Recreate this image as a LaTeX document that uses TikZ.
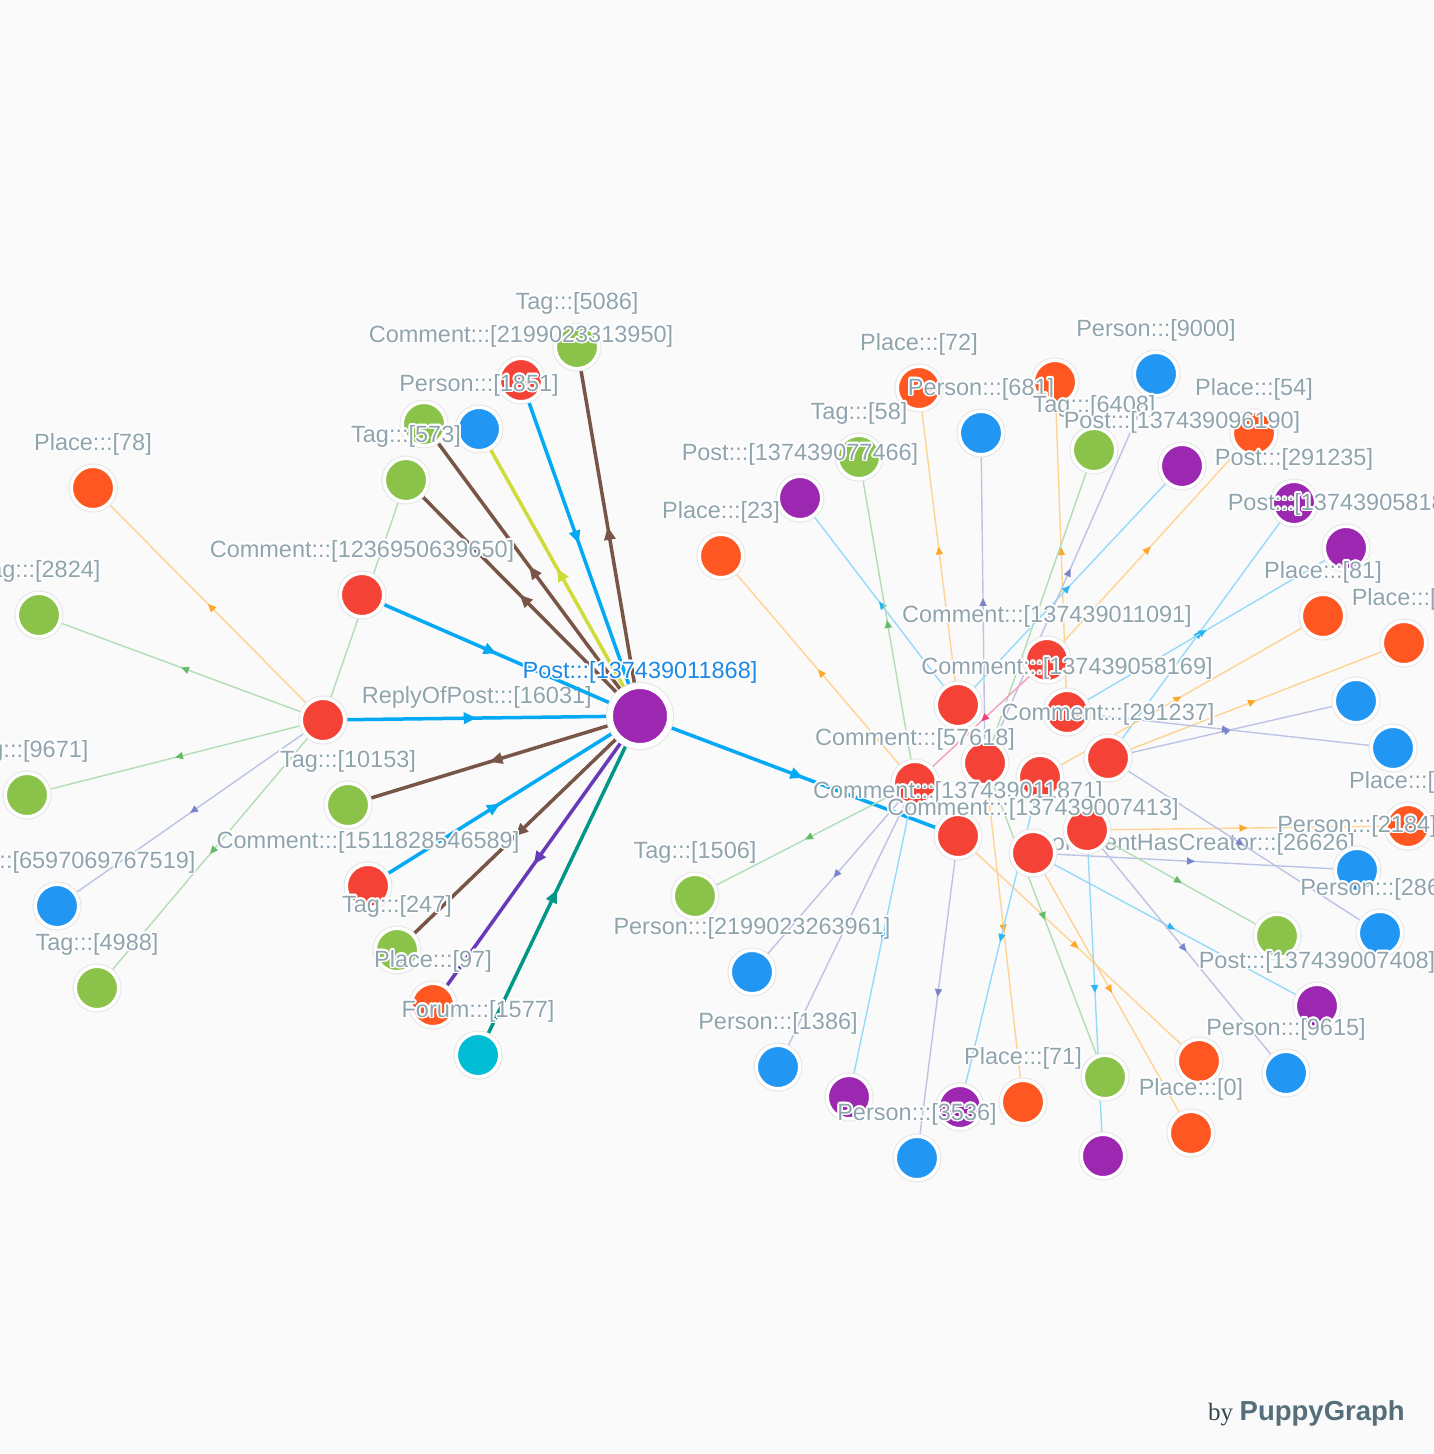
\documentclass[tikz,border=0pt]{standalone}
\usepackage{fontspec}
\setmainfont{Liberation Sans}
\newfontfamily\byfont{Liberation Serif}
\usepackage{xcolor}
\usepackage{contour}
\contourlength{1.6pt}
\contournumber{16}
\usepackage{tikz}
\usetikzlibrary{positioning,arrows.meta,decorations.markings}
\newcommand{\lblsize}{\fontsize{23.5}{28}\selectfont}
\newcommand{\halo}[1]{\contour{white}{#1}}
\definecolor{bg}{HTML}{FAFAFA}
\definecolor{lblgray}{HTML}{90A4AE}
\definecolor{postblue}{HTML}{1E88E5}
\definecolor{byGray}{HTML}{37474F}
\definecolor{logoGray}{HTML}{546E7A}
\definecolor{cComment}{HTML}{F44336}
\definecolor{cPlace}{HTML}{FF5722}
\definecolor{cTag}{HTML}{8BC34A}
\definecolor{cPerson}{HTML}{2196F3}
\definecolor{cPost}{HTML}{9C27B0}
\definecolor{cForum}{HTML}{00BCD4}
\definecolor{eBrown}{HTML}{795548}
\definecolor{eBlue}{HTML}{03A9F4}
\definecolor{eLime}{HTML}{CDDC39}
\definecolor{ePurple}{HTML}{673AB7}
\definecolor{eTeal}{HTML}{009688}
\definecolor{eOrange}{HTML}{FFA726}
\definecolor{eGreen}{HTML}{66BB6A}
\definecolor{eSky}{HTML}{29B6F6}
\definecolor{eLav}{HTML}{7986CB}
\definecolor{ePink}{HTML}{EC407A}
\pgfdeclarelayer{bglayer}
\pgfdeclarelayer{edgelayer}
\pgfsetlayers{bglayer,edgelayer,main}

\begin{document}
\begin{tikzpicture}[
  x=1pt, y=-1pt,
  every node/.style={font=\lblsize},
  ent/.style={circle,fill=#1,draw=white,line width=3.5pt,minimum size=43.5pt,inner sep=0pt,
    preaction={draw=black!10,line width=5.5pt}},
  lbl/.style={text=lblgray,inner sep=0pt,text depth=0pt},
  rel/.style={draw=#1!50!white,line width=1.4pt,postaction={decorate},
    decoration={markings,mark=at position 0.5 with {\arrow[color=#1]{Triangle[length=8pt,width=7pt]}}}},
  link/.style={draw=#1,line width=3.5pt,postaction={decorate},
    decoration={markings,mark=at position 0.5 with {\arrow[color=#1]{Triangle[length=13pt,width=11pt]}}}}
]
  \useasboundingbox (0,0) rectangle (1434,1454);
  \begin{pgfonlayer}{bglayer}
    \fill[bg] (0,0) rectangle (1434,1454);
  \end{pgfonlayer}

  % left cluster
  \node[ent=cPost,minimum size=60pt,line width=6pt,
    preaction={draw=black!10,line width=8pt}] (post) at (640,716) {};
  \node[ent=cComment] (c0) at (323,720) {};
  \node[ent=cPlace] (place78) at (93,488) {};
  \node[ent=cTag] (tag2824) at (39,615) {};
  \node[ent=cTag] (tag9671) at (27,795) {};
  \node[ent=cPerson] (person6597) at (57,906) {};
  \node[ent=cTag] (tag4988) at (97,988) {};
  \node[ent=cComment] (c1236) at (362,595) {};
  \node[ent=cTag] (tag573) at (406,480) {};
  \node[ent=cTag] (tagA) at (424,424) {};
  \node[ent=cPerson] (person1851) at (479,429) {};
  \node[ent=cComment] (c2199) at (521,380) {};
  \node[ent=cTag] (tag5086) at (577,347) {};
  \node[ent=cTag] (tag10153) at (348,805) {};
  \node[ent=cComment] (c1511) at (368,886) {};
  \node[ent=cTag] (tag247) at (397,950) {};
  \node[ent=cPlace] (place97) at (433,1005) {};
  \node[ent=cForum] (forum1577) at (478,1055) {};

  % right cluster, comments
  \node[ent=cComment] (cA) at (958,705) {};
  \node[ent=cComment] (c11091) at (1047,660) {};
  \node[ent=cComment] (c58169) at (1067,712) {};
  \node[ent=cComment] (c291237) at (1108,758) {};
  \node[ent=cComment] (cB) at (985,763) {};
  \node[ent=cComment] (c57618) at (915,783) {};
  \node[ent=cComment] (cC) at (1040,777) {};
  \node[ent=cComment] (cD) at (1087,830) {};
  \node[ent=cComment] (c11871) at (958,836) {};
  \node[ent=cComment] (c07413) at (1033,853) {};

  % right cluster, outer ring
  \node[ent=cPlace] (place23) at (721,556) {};
  \node[ent=cPost] (post77466) at (800,498) {};
  \node[ent=cTag] (tag58) at (859,457) {};
  \node[ent=cPlace] (place72) at (919,388) {};
  \node[ent=cPerson] (person681) at (981,433) {};
  \node[ent=cPlace] (placeA) at (1055,382) {};
  \node[ent=cTag] (tag6408) at (1094,450) {};
  \node[ent=cPerson] (person9000) at (1156,374) {};
  \node[ent=cPost] (post96190) at (1182,466) {};
  \node[ent=cPlace] (place54) at (1254,433) {};
  \node[ent=cPost] (post291235) at (1294,503) {};
  \node[ent=cPost] (post58187) at (1346,548) {};
  \node[ent=cPlace] (place81) at (1323,616) {};
  \node[ent=cPlace] (place5) at (1404,643) {};
  \node[ent=cPerson] (personA) at (1356,701) {};
  \node[ent=cPerson] (personB) at (1393,748) {};
  \node[ent=cPlace] (place56) at (1408,826) {};
  \node[ent=cPerson] (person2184) at (1357,870) {};
  \node[ent=cPerson] (person2865) at (1380,933) {};
  \node[ent=cTag] (tagB) at (1277,936) {};
  \node[ent=cPost] (post07408) at (1317,1006) {};
  \node[ent=cPerson] (person9615) at (1286,1073) {};
  \node[ent=cPlace] (placeB) at (1199,1061) {};
  \node[ent=cPlace] (place0) at (1191,1133) {};
  \node[ent=cTag] (tagC) at (1105,1077) {};
  \node[ent=cPost] (postA) at (1103,1156) {};
  \node[ent=cPlace] (place71) at (1023,1102) {};
  \node[ent=cPost] (postB) at (960,1107) {};
  \node[ent=cPerson] (person3536) at (917,1158) {};
  \node[ent=cPost] (postC) at (849,1097) {};
  \node[ent=cPerson] (person1386) at (778,1067) {};
  \node[ent=cPerson] (person2199) at (752,972) {};
  \node[ent=cTag] (tag1506) at (695,896) {};

  % labels, on top of every circle
  \node[lbl,text=postblue,above=4.5pt of post] (lpost) {\halo{Post:::[137439011868]}};
  \node[lbl,above=14pt of place78] (lplace78) {\halo{Place:::[78]}};
  \node[lbl,above=14pt of tag2824] (ltag2824) {\halo{Tag:::[2824]}};
  \node[lbl,above=14pt of tag9671] (ltag9671) {\halo{Tag:::[9671]}};
  \node[lbl,above=14pt of person6597] (lperson6597) {\halo{Person:::[6597069767519]}};
  \node[lbl,above=14pt of tag4988] (ltag4988) {\halo{Tag:::[4988]}};
  \node[lbl,above=14pt of c1236] (lc1236) {\halo{Comment:::[1236950639650]}};
  \node[lbl,above=14pt of tag573] (ltag573) {\halo{Tag:::[573]}};
  \node[lbl,above=14pt of person1851] (lperson1851) {\halo{Person:::[1851]}};
  \node[lbl,above=14pt of c2199] (lc2199) {\halo{Comment:::[2199023313950]}};
  \node[lbl,above=14pt of tag5086] (ltag5086) {\halo{Tag:::[5086]}};
  \node[lbl,above=14pt of tag10153] (ltag10153) {\halo{Tag:::[10153]}};
  \node[lbl,above=14pt of c1511] (lc1511) {\halo{Comment:::[1511828546589]}};
  \node[lbl,above=14pt of tag247] (ltag247) {\halo{Tag:::[247]}};
  \node[lbl,above=14pt of place97] (lplace97) {\halo{Place:::[97]}};
  \node[lbl,above=14pt of forum1577] (lforum1577) {\halo{Forum:::[1577]}};
  \node[lbl,above=14pt of place23] (lplace23) {\halo{Place:::[23]}};
  \node[lbl,above=14pt of post77466] (lpost77466) {\halo{Post:::[137439077466]}};
  \node[lbl,above=14pt of tag58] (ltag58) {\halo{Tag:::[58]}};
  \node[lbl,above=14pt of place72] (lplace72) {\halo{Place:::[72]}};
  \node[lbl,above=14pt of person681] (lperson681) {\halo{Person:::[681]}};
  \node[lbl,above=14pt of person9000] (lperson9000) {\halo{Person:::[9000]}};
  \node[lbl,above=14pt of place54] (lplace54) {\halo{Place:::[54]}};
  \node[lbl,above=14pt of tag6408] (ltag6408) {\halo{Tag:::[6408]}};
  \node[lbl,above=14pt of post96190] (lpost96190) {\halo{Post:::[137439096190]}};
  \node[lbl,above=14pt of post291235] (lpost291235) {\halo{Post:::[291235]}};
  \node[lbl,above=14pt of post58187] (lpost58187) {\halo{Post:::[137439058187]}};
  \node[lbl,above=14pt of place81] (lplace81) {\halo{Place:::[81]}};
  \node[lbl,above=14pt of place5] (lplace5) {\halo{Place:::[5]}};
  \node[lbl,above=14pt of c11091] (lc11091) {\halo{Comment:::[137439011091]}};
  \node[lbl,above=14pt of c58169] (lc58169) {\halo{Comment:::[137439058169]}};
  \node[lbl,above=14pt of c291237] (lc291237) {\halo{Comment:::[291237]}};
  \node[lbl,above=14pt of c57618] (lc57618) {\halo{Comment:::[57618]}};
  \node[lbl,above=14pt of place56] (lplace56) {\halo{Place:::[56]}};
  \node[lbl,above=14pt of c11871] (lc11871) {\halo{Comment:::[137439011871]}};
  \node[lbl,above=14pt of c07413] (lc07413) {\halo{Comment:::[137439007413]}};
  \node[lbl,above=14pt of person2184] (lperson2184) {\halo{Person:::[2184]}};
  \node[lbl,above=14pt of person2865] (lperson2865) {\halo{Person:::[2865]}};
  \node[lbl,above=14pt of tag1506] (ltag1506) {\halo{Tag:::[1506]}};
  \node[lbl,above=14pt of person2199] (lperson2199) {\halo{Person:::[2199023263961]}};
  \node[lbl,above=14pt of post07408] (lpost07408) {\halo{Post:::[137439007408]}};
  \node[lbl,above=14pt of person1386] (lperson1386) {\halo{Person:::[1386]}};
  \node[lbl,above=14pt of person9615] (lperson9615) {\halo{Person:::[9615]}};
  \node[lbl,above=14pt of place71] (lplace71) {\halo{Place:::[71]}};
  \node[lbl,above=14pt of place0] (lplace0) {\halo{Place:::[0]}};
  \node[lbl,above=14pt of person3536] (lperson3536) {\halo{Person:::[3536]}};

  \node[anchor=base west,inner sep=0pt] (logo) at (1208,1420)
    {{\byfont\fontsize{25}{30}\selectfont\color{byGray}by} {\fontsize{27.5}{33}\selectfont\bfseries\color{logoGray}PuppyGraph}};

  \begin{pgfonlayer}{edgelayer}
    % edges round the post
    \draw[link=eBlue] (c0) -- node[lbl,above=12.5pt] {\halo{ReplyOfPost:::[16031]}} (post);
    \draw[rel=eOrange] (c0) -- (place78);
    \draw[rel=eGreen] (c0) -- (tag2824);
    \draw[rel=eGreen] (c0) -- (tag9671);
    \draw[rel=eLav] (c0) -- (person6597);
    \draw[rel=eGreen] (c0) -- (tag4988);
    \draw[rel=eGreen] (c0) -- (tag573);
    \draw[link=eBlue] (c1236) -- (post);
    \draw[link=eBrown] (post) -- (tag573);
    \draw[link=eBrown] (post) -- (tagA);
    \draw[link=eLime] (post) -- (person1851);
    \draw[link=eBlue] (c2199) -- (post);
    \draw[link=eBrown] (post) -- (tag5086);
    \draw[link=eBrown] (post) -- (tag10153);
    \draw[link=eBlue] (c1511) -- (post);
    \draw[link=eBrown] (post) -- (tag247);
    \draw[link=ePurple] (post) -- (place97);
    \draw[link=eTeal] (forum1577) -- (post);
    \draw[link=eBlue] (post) -- (c11871);

    % edges of the comment cluster
    \draw[rel=eOrange] (c57618) -- (place23);
    \draw[rel=eSky] (cA) -- (post77466);
    \draw[rel=eGreen] (c57618) -- (tag58);
    \draw[rel=eOrange] (cA) -- (place72);
    \draw[rel=eLav] (cB) -- (person681);
    \draw[rel=eOrange] (c58169) -- (placeA);
    \draw[rel=eGreen] (cB) -- (tag6408);
    \draw[rel=eSky] (cA) -- (post96190);
    \draw[rel=eLav] (cB) -- (person9000);
    \draw[rel=eOrange] (c11091) -- (place54);
    \draw[rel=eSky] (c291237) -- (post291235);
    \draw[rel=eSky] (c58169) -- (post58187);
    \draw[rel=eOrange] (cC) -- (place81);
    \draw[rel=eOrange] (c291237) -- (place5);
    \draw[rel=eLav] (c291237) -- (personA);
    \draw[rel=eLav] (c58169) -- (personB);
    \draw[rel=eOrange] (cD) -- (place56);
    \draw[rel=eLav] (c07413) -- node[lbl,above=10pt] {\halo{CommentHasCreator:::[26626]}} (person2184);
    \draw[rel=eLav] (c291237) -- (person2865);
    \draw[rel=eGreen] (cD) -- (tagB);
    \draw[rel=eSky] (c07413) -- (post07408);
    \draw[rel=eLav] (cD) -- (person9615);
    \draw[rel=eOrange] (c11871) -- (placeB);
    \draw[rel=eOrange] (c07413) -- (place0);
    \draw[rel=eGreen] (cB) -- (tagC);
    \draw[rel=eOrange] (cB) -- (place71);
    \draw[rel=eSky] (cD) -- (postA);
    \draw[rel=eSky] (cC) -- (postB);
    \draw[rel=eLav] (c11871) -- (person3536);
    \draw[rel=eSky] (c57618) -- (postC);
    \draw[rel=eLav] (c57618) -- (person1386);
    \draw[rel=eLav] (c57618) -- (person2199);
    \draw[rel=eGreen] (c57618) -- (tag1506);
    \draw[rel=ePink] (c11091) -- (c57618);
  \end{pgfonlayer}
\end{tikzpicture}
\end{document}
